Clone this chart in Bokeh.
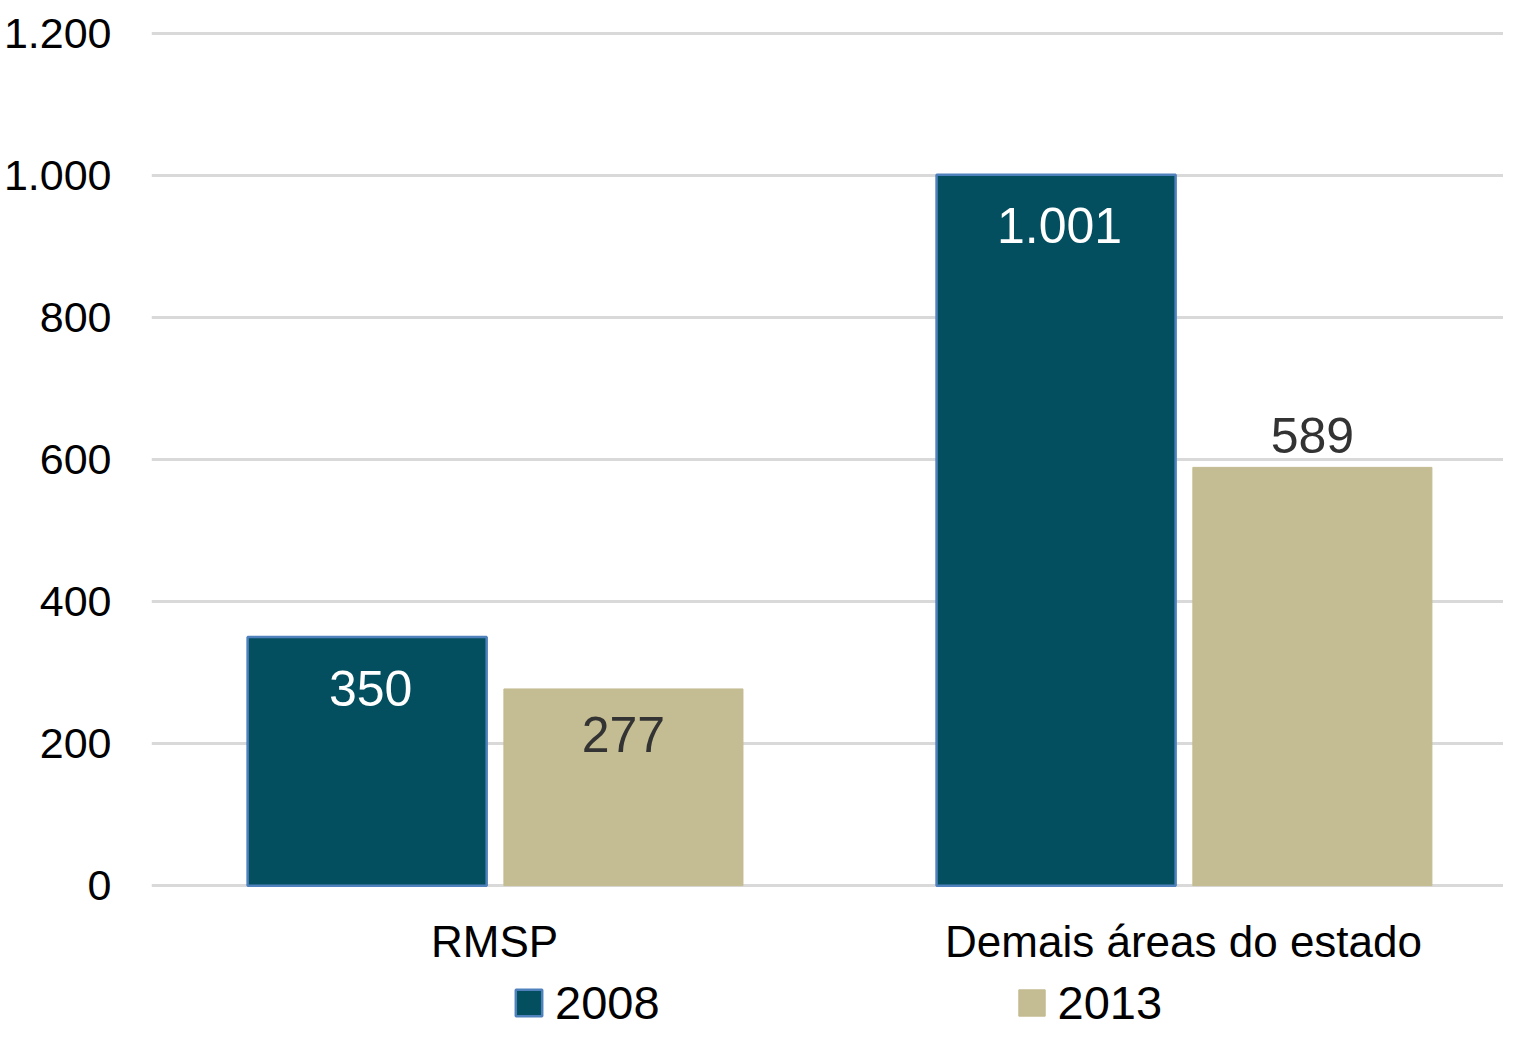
from bokeh.plotting import figure
from bokeh.models import ColumnDataSource, Range1d, FixedTicker, Legend, LegendItem, LinearAxis
from bokeh.transform import dodge
from bokeh.core.properties import value
from bokeh.embed import file_html
from bokeh.resources import INLINE

# ---- data ----
categories = ["RMSP", "Demais áreas do estado"]
series_names = ["2008", "2013"]
values_2008 = [350, 1001]
values_2013 = [277, 589]
labels_2008 = ["350", "1.001"]
labels_2013 = ["277", "589"]
y_ticks = [0, 200, 400, 600, 800, 1000, 1200]
y_tick_labels = ["0", "200", "400", "600", "800", "1.000", "1.200"]

FONT = "Liberation Sans"
C2008 = "#034F60"
C2008_LINE = "#4F81BD"
C2013 = "#C4BC92"

idx = list(range(len(categories)))
src = ColumnDataSource(dict(
    x=idx, v2008=values_2008, v2013=values_2013,
    l2008=labels_2008, l2013=labels_2013,
    # 2013 labels: inside for the small bar, outside end for the larger one
    off2013=[46, -32],
))

p = figure(width=1503, height=1030, output_backend="svg", toolbar_location=None,
           x_range=Range1d(-0.498, 1.4644), y_range=Range1d(-204, 1205.6),
           x_axis_location=None,
           min_border_left=145, min_border_right=0, min_border_top=29,
           min_border_bottom=0)
p.outline_line_color = None
p.background_fill_color = "white"

r1 = p.vbar(x=dodge("x", -0.185), top="v2008", width=0.347, source=src,
            fill_color=C2008, line_color=C2008_LINE, line_width=2.5)
r2 = p.vbar(x=dodge("x", 0.187), top="v2013", width=0.347, source=src,
            fill_color=C2013, line_color=C2013, line_width=1)

p.text(x=dodge("x", -0.18), y="v2008", text="l2008", source=src,
       text_font=value(FONT), text_align="center", text_baseline="alphabetic",
       y_offset=51, text_color="white", text_font_size="50px")
p.text(x=dodge("x", 0.187), y="v2013", text="l2013", source=src,
       text_font=value(FONT), text_align="center", text_baseline="alphabetic",
       y_offset="off2013", text_color="#333333", text_font_size="50px")

# x axis fixed at y = 0
xaxis = LinearAxis(fixed_location=0, ticker=FixedTicker(ticks=idx))
xaxis.major_label_overrides = {i: c for i, c in zip(idx, categories)}
xaxis.major_label_text_font = FONT
xaxis.major_label_text_font_size = "44px"
xaxis.major_label_text_color = "black"
xaxis.major_label_standoff = 31
xaxis.axis_line_color = None
xaxis.major_tick_line_color = None
xaxis.minor_tick_line_color = None
xaxis.major_tick_out = 0
p.add_layout(xaxis, "below")

p.yaxis.ticker = FixedTicker(ticks=y_ticks)
p.yaxis.major_label_overrides = {t: l for t, l in zip(y_ticks, y_tick_labels)}
p.yaxis.major_label_text_font = FONT
p.yaxis.major_label_text_font_size = "43px"
p.yaxis.major_label_text_color = "black"
p.yaxis.major_label_standoff = 40
p.yaxis.axis_line_color = None
p.yaxis.major_tick_line_color = None
p.yaxis.minor_tick_line_color = None
p.yaxis.major_tick_out = 0

p.xgrid.grid_line_color = None
p.ygrid.ticker = FixedTicker(ticks=y_ticks)
p.ygrid.grid_line_color = "#D9D9D9"
p.ygrid.grid_line_width = 3

legend = Legend(items=[LegendItem(label=series_names[0], renderers=[r1]),
                       LegendItem(label=series_names[1], renderers=[r2])],
                orientation="horizontal", location=(361, 0),
                label_text_font=FONT, label_text_font_size="47px",
                label_text_color="black", glyph_width=33, glyph_height=33,
                label_standoff=10, spacing=355, padding=0, margin=0,
                border_line_color=None, background_fill_alpha=0)
p.add_layout(legend, "center")

open("out.html", "w").write(file_html(p, INLINE))
